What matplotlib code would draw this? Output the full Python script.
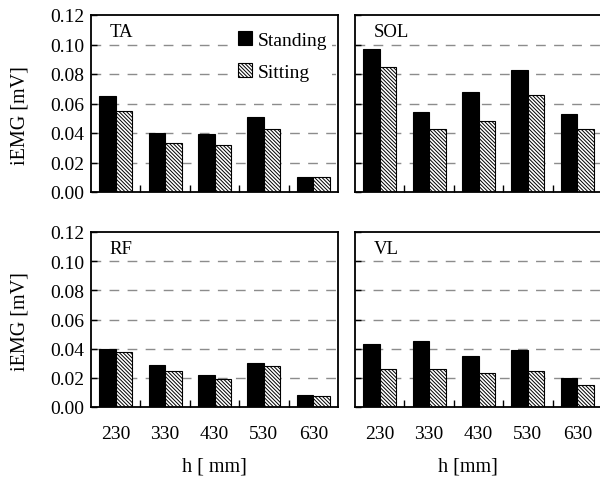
import matplotlib
matplotlib.use("Agg")
import matplotlib.pyplot as plt
import numpy as np
from matplotlib.patches import Patch

plt.rcParams['font.family'] = ['Liberation Serif', 'DejaVu Serif']
plt.rcParams['hatch.linewidth'] = 0.7

heights = ["230", "330", "430", "530", "630"]
muscles = ["TA", "SOL", "RF", "VL"]
standing = {
    "TA":  [0.065, 0.040, 0.039, 0.051, 0.010],
    "SOL": [0.097, 0.054, 0.068, 0.083, 0.053],
    "RF":  [0.040, 0.029, 0.022, 0.030, 0.008],
    "VL":  [0.043, 0.045, 0.035, 0.039, 0.020],
}
sitting = {
    "TA":  [0.055, 0.033, 0.032, 0.043, 0.010],
    "SOL": [0.085, 0.043, 0.048, 0.066, 0.043],
    "RF":  [0.038, 0.025, 0.019, 0.028, 0.0075],
    "VL":  [0.026, 0.026, 0.023, 0.025, 0.015],
}
yticks = [0.00, 0.02, 0.04, 0.06, 0.08, 0.10, 0.12]
ytick_labels = ["0.00", "0.02", "0.04", "0.06", "0.08", "0.10", "0.12"]

W, H = 600, 481
fig = plt.figure(figsize=(6.0, 4.81), dpi=100)

def rect(x0, y0, x1, y1):
    return [x0 / W, 1 - y1 / H, (x1 - x0) / W, (y1 - y0) / H]

boxes = {
    "TA": rect(91, 16, 338, 193),
    "SOL": rect(355, 16, 602, 193),
    "RF": rect(91, 233, 338, 408),
    "VL": rect(355, 233, 602, 408),
}

x = np.arange(len(heights))
bw = 0.335
hatch = '\\' * 9
FS = 14

for m in muscles:
    ax = fig.add_axes(boxes[m])
    ax.set_xlim(-0.5, 4.5)
    ax.set_ylim(0, 0.12)
    for yv in yticks[1:-1]:
        ax.axhline(yv, color='#8c8c8c', lw=1.0, dashes=(7, 6), zorder=0)
    ax.bar(x - bw / 2, standing[m], bw, color='black', edgecolor='black', lw=0.8, zorder=2, label='Standing')
    ax.bar(x + bw / 2, sitting[m], bw, color='white', edgecolor='black', lw=0.8, hatch=hatch, zorder=2, label='Sitting')
    ax.set_yticks(yticks)
    left = m in ("TA", "RF")
    if left:
        ax.set_yticklabels(ytick_labels, fontsize=FS)
    else:
        ax.set_yticklabels([])
    ax.tick_params(axis='y', direction='in', length=4, width=1, pad=5)
    ax.set_xticks(x)
    bottom = m in ("RF", "VL")
    if bottom:
        ax.set_xticklabels(heights, fontsize=FS)
    else:
        ax.set_xticklabels([])
    ax.tick_params(axis='x', which='major', length=0, pad=13)
    ax.set_xticks(x[:-1] + 0.5, minor=True)
    ax.tick_params(axis='x', which='minor', direction='in', length=5, width=1)
    for s in ax.spines.values():
        s.set_linewidth(1.3)
    ax.text(0.075, 0.955, m, transform=ax.transAxes, fontsize=13.5, va='top', ha='left')
    if m == "TA":
        handles = [Patch(facecolor='black', edgecolor='black', lw=0.8),
                   Patch(facecolor='white', edgecolor='black', lw=0.8, hatch=hatch)]
        leg = ax.legend(handles, ['Standing', 'Sitting'], loc='upper right',
                        bbox_to_anchor=(0.975, 0.935), fontsize=FS, frameon=True,
                        handlelength=0.7, handleheight=0.7, handletextpad=0.3,
                        labelspacing=0.72, borderpad=0.25, borderaxespad=0.0)
        leg.get_frame().set_edgecolor('none')
        leg.get_frame().set_facecolor('white')
        leg.get_frame().set_alpha(1.0)
        leg.set_zorder(3)

fig.text(20 / W, 1 - 116 / H, "iEMG [mV]", rotation=90, fontsize=14.5, ha='center', va='center')
fig.text(20 / W, 1 - 322 / H, "iEMG [mV]", rotation=90, fontsize=14.5, ha='center', va='center')
fig.text(214 / W, 1 - 467 / H, "h [ mm]", fontsize=14.5, ha='center', va='center')
fig.text(468 / W, 1 - 467 / H, "h [mm]", fontsize=14.5, ha='center', va='center')

fig.savefig("out.png", dpi=100)
